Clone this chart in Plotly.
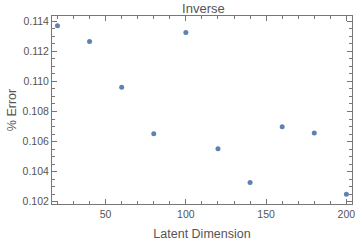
import plotly.graph_objects as go

latent_dim = [20, 40, 60, 80, 100, 120, 140, 160, 180, 200]
pct_error = [0.11371, 0.11265, 0.10961, 0.10652, 0.11325, 0.10553, 0.10328, 0.10699, 0.10657, 0.10249]

x_ticks = [50, 100, 150, 200]
y_ticks = [0.102, 0.104, 0.106, 0.108, 0.110, 0.112, 0.114]
y_tick_text = ["0.102", "0.104", "0.106", "0.108", "0.110", "0.112", "0.114"]

fig = go.Figure(go.Scatter(
    x=latent_dim, y=pct_error, mode="markers",
    marker=dict(color="#5E81B5", size=5),
))

axis_common = dict(
    showgrid=False, zeroline=False, showline=True, linecolor="#777", linewidth=1,
    mirror="allticks", ticks="inside", ticklen=5, tickcolor="#777", tickwidth=1,
    tickfont=dict(family="Liberation Sans, Arial", size=10.5, color="#555"),
)

fig.update_layout(
    width=360, height=243,
    margin=dict(l=52, r=5, t=16, b=38),
    paper_bgcolor="white", plot_bgcolor="white",
    showlegend=False,
    title=dict(text="Inverse", x=0.565, xanchor="center", xref="container", y=0.965, yanchor="middle",
               yref="container",
               font=dict(family="Liberation Sans, Arial", size=13, color="#555")),
    xaxis=dict(
        range=[16.6, 203.5], tickvals=x_ticks,
        minor=dict(dtick=10, tick0=0, ticks="inside", ticklen=3, tickcolor="#777"),
        title=dict(text="Latent Dimension", standoff=10,
                   font=dict(family="Liberation Sans, Arial", size=12.5, color="#555")),
        **axis_common,
    ),
    yaxis=dict(
        range=[0.10185, 0.11435], tickvals=y_ticks, ticktext=y_tick_text,
        minor=dict(dtick=0.0005, tick0=0.1, ticks="inside", ticklen=3, tickcolor="#777"),
        title=dict(text="% Error", standoff=3,
                   font=dict(family="Liberation Sans, Arial", size=12.5, color="#555")),
        **axis_common,
    ),
)

fig.write_html("out.html", config={"displayModeBar": False},
               post_script="document.body.style.margin='0';document.body.style.overflow='hidden';")
